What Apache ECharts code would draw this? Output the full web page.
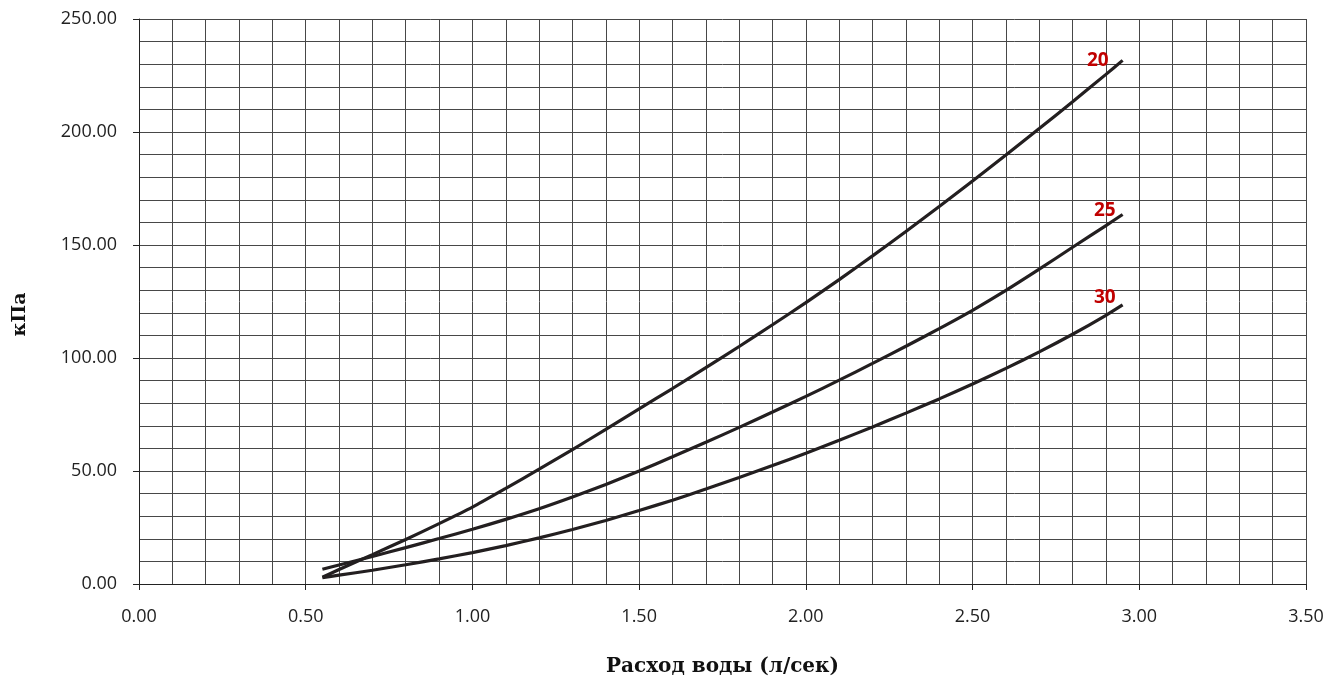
<!DOCTYPE html>
<html>
<head>
<meta charset="utf-8">
<script src="https://cdn.jsdelivr.net/npm/echarts@6/dist/echarts.min.js"></script>
<style>
  html, body { margin: 0; padding: 0; background: #fff; }
  #chart { width: 1330px; height: 682px; }
</style>
</head>
<body>
<div id="chart"></div>
<script>
// расход воды, л/сек
var flow = [0.55, 0.6, 0.7, 0.8, 0.9, 1.0, 1.1, 1.2, 1.3, 1.4, 1.5, 1.6, 1.7, 1.8, 1.9, 2.0,
            2.1, 2.2, 2.3, 2.4, 2.5, 2.6, 2.7, 2.8, 2.9, 2.95];
// потери давления, кПа
var dn20 = [3.0, 6.4, 13.0, 19.7, 26.7, 34.0, 42.3, 50.8, 59.5, 68.4, 77.5, 86.5, 95.7, 105.1, 114.7, 124.5,
            134.7, 145.2, 156.0, 167.0, 178.3, 189.8, 201.5, 213.4, 225.5, 231.7];
var dn25 = [6.5, 8.4, 12.2, 16.1, 20.1, 24.2, 28.6, 33.3, 38.5, 44.0, 50.0, 56.3, 62.7, 69.3, 76.1, 83.0,
            90.2, 97.6, 105.2, 113.0, 121.1, 129.9, 139.3, 149.0, 158.6, 163.5];
var dn30 = [2.8, 3.9, 6.1, 8.5, 11.1, 13.9, 17.0, 20.4, 24.1, 28.1, 32.5, 37.1, 42.0, 47.1, 52.4, 57.9,
            63.6, 69.5, 75.6, 81.9, 88.5, 95.4, 102.7, 110.5, 118.9, 123.5];
var names = ['20', '25', '30'];

// сдвиг подписей относительно конца линии
var labelShift = [[-22, 0], [-15, -4], [-15, -7]];

var lineColor = '#231f20';
var gridColor = '#474747';

function pairs(ys) {
	var out = [];
	for (var i = 0; i < flow.length; i++) {
		out.push([flow[i], ys[i]]);
	}
	return out;
}

function makeSeries(idx, ys) {
	var name = names[idx];
	return {
		name: name,
		type: 'line',
		data: pairs(ys),
		smooth: 0.2,
		showSymbol: false,
		lineStyle: { color: lineColor, width: 3.2 },
		endLabel: {
			show: true,
			formatter: name,
			color: '#c00000',
			fontFamily: 'Open Sans',
			fontWeight: 'bold',
			fontSize: 19,
			align: 'right',
			offset: labelShift[idx]
		},
		z: 5
	};
}

function axisCommon() {
	return {
		axisLine: { show: true, onZero: false, lineStyle: { color: '#222', width: 1 } },
		axisTick: { show: true, length: 6, inside: false, lineStyle: { color: '#222' } },
		splitLine: { show: true, lineStyle: { color: gridColor, width: 1 } },
		minorTick: { show: false, splitNumber: 5 },
		minorSplitLine: { show: true, lineStyle: { color: gridColor, width: 1 } }
	};
}

var chart = echarts.init(document.getElementById('chart'));

var xAxis = axisCommon();
xAxis.type = 'value';
xAxis.min = 0;
xAxis.max = 3.5;
xAxis.interval = 0.5;
xAxis.name = 'Расход воды (л/сек)';
xAxis.nameLocation = 'middle';
xAxis.nameGap = 73;
xAxis.nameTextStyle = { fontFamily: 'DejaVu Serif', fontWeight: 'bold', fontSize: 20, color: '#111' };
xAxis.axisLabel = {
	margin: 24, fontFamily: 'Open Sans', fontSize: 18, color: '#222',
	formatter: function (v) { return v.toFixed(2); }
};

var yAxis = axisCommon();
yAxis.type = 'value';
yAxis.min = 0;
yAxis.max = 250;
yAxis.interval = 50;
yAxis.name = 'кПа';
yAxis.nameLocation = 'middle';
yAxis.nameGap = 109;
yAxis.nameRotate = 90;
yAxis.nameTextStyle = {
	fontFamily: 'DejaVu Serif', fontWeight: 'bold', fontSize: 19, color: '#111',
	padding: [0, 26, 0, 0]
};
yAxis.axisLabel = {
	margin: 22, fontFamily: 'Open Sans', fontSize: 18, color: '#222',
	formatter: function (v) { return v.toFixed(2); }
};

var option = {
	animation: false,
	grid: { left: 139, right: 24, top: 19, bottom: 96 },
	xAxis: xAxis,
	yAxis: yAxis,
	series: [
		makeSeries(0, dn20),
		makeSeries(1, dn25),
		makeSeries(2, dn30)
	]
};
chart.setOption(option);
</script>
</body>
</html>
